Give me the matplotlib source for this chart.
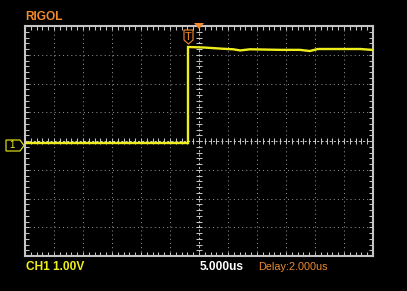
# plot.py - RIGOL scope capture of a step, redrawn with matplotlib

import numpy as np
import matplotlib.pyplot as plt
from matplotlib.patches import Polygon

# === data ===
t_us = [-30.0, -20.0, -10.0, -1.9, -1.9, 1.0, 4.0, 5.9, 7.1, 8.8, 14.0,
        17.4, 19.1, 20.5, 24.0, 27.8, 29.8]
v_volts = [-0.07, -0.07, -0.07, -0.07, 3.27, 3.25, 3.21, 3.19, 3.15, 3.19, 3.17,
           3.17, 3.13, 3.20, 3.20, 3.20, 3.17]
h_divs = 12
v_divs = 8
time_per_div = 5.0   # us
volts_per_div = 1.0

W, H = 407, 291
bg = "black"
grid_col = "#8c8c8c"
frame_col = "#c4c4c4"
yellow = "#eeee1c"
orange = "#f08a2c"


def px(x, y):
    return (x / W, 1 - y / H)


fig = plt.figure(figsize=(W / 100, H / 100), dpi=100, facecolor=bg)
ax = fig.add_axes([25 / W, (H - 256) / H, 348 / W, 230 / H], facecolor=bg)

xmax = h_divs / 2 * time_per_div
ymax = v_divs / 2 * volts_per_div
ax.set_xlim(-xmax, xmax)
ax.set_ylim(-ymax, ymax)

# grid
for i in range(1, h_divs):
    x = -xmax + i * time_per_div
    if abs(x) > 1e-9:
        ax.axvline(x, color=grid_col, lw=0.75, ls=(0, (1, 3)), zorder=1)
for i in range(1, v_divs):
    y = -ymax + i * volts_per_div
    if abs(y) > 1e-9:
        ax.axhline(y, color=grid_col, lw=0.75, ls=(0, (1, 3)), zorder=1)

# center cross with small ticks
ax.axvline(0, color=frame_col, lw=0.75, ls=(0, (2, 2)), zorder=1)
ax.axhline(0, color=frame_col, lw=0.75, ls=(0, (2, 2)), zorder=1)
minor_x = np.arange(-xmax, xmax + 0.01, time_per_div / 5)
minor_y = np.arange(-ymax, ymax + 0.01, volts_per_div / 5)
ax.plot(minor_x, np.zeros_like(minor_x), ls="none", marker="|", ms=4,
        mew=0.75, color=frame_col, zorder=1)
ax.plot(np.zeros_like(minor_y), minor_y, ls="none", marker="_", ms=4,
        mew=0.75, color=frame_col, zorder=1)

# frame ticks
ax.set_xticks(minor_x)
ax.set_yticks(minor_y)
ax.tick_params(which="both", direction="in", length=3, width=0.75,
               color=frame_col, top=True, right=True,
               labelbottom=False, labelleft=False)
for s in ax.spines.values():
    s.set_color(frame_col)
    s.set_linewidth(1.5)

# trace
ax.plot(t_us, v_volts, color=yellow, lw=1.7, zorder=3, solid_joinstyle="miter")

# header / footer text
fig.text(*px(25, 17), "RIGOL", color=orange, fontsize=8.6, fontweight="bold",
         family="Liberation Sans", va="center", ha="left")
fig.text(*px(26, 267), "CH1 1.00V", color=yellow, fontsize=8.6, fontweight="bold",
         family="Liberation Sans", va="center", ha="left")
fig.text(*px(200, 267), "5.000us", color="white", fontsize=8.6, fontweight="bold",
         family="Liberation Sans", va="center", ha="left")
fig.text(*px(258, 267), "Delay:2.000us", color=orange, fontsize=7.8,
         family="Liberation Sans", va="center", ha="left")

# trigger position marker at top
fig.add_artist(Polygon([px(194, 23), px(204, 23), px(199, 29)], closed=True,
                       transform=fig.transFigure, facecolor=orange, edgecolor="none",
                       zorder=5))
# trigger level icon
fig.add_artist(Polygon([px(184, 30), px(193, 30), px(193, 40), px(188.5, 44), px(184, 40)],
                       closed=True, transform=fig.transFigure, facecolor=bg,
                       edgecolor=orange, lw=0.8, zorder=5))
fig.text(*px(188.5, 36.5), "T", color=orange, fontsize=8, family="Liberation Sans",
         va="center", ha="center", zorder=6)

# channel 1 ground marker
fig.add_artist(Polygon([px(6, 140), px(20, 140), px(24, 145.5), px(20, 151), px(6, 151)],
                       closed=True, transform=fig.transFigure, facecolor=bg,
                       edgecolor=yellow, lw=0.8))
fig.text(*px(12, 145.5), "1", color=yellow, fontsize=7, family="Liberation Sans",
         va="center", ha="center")

fig.savefig("out.png", dpi=100, facecolor=bg)
